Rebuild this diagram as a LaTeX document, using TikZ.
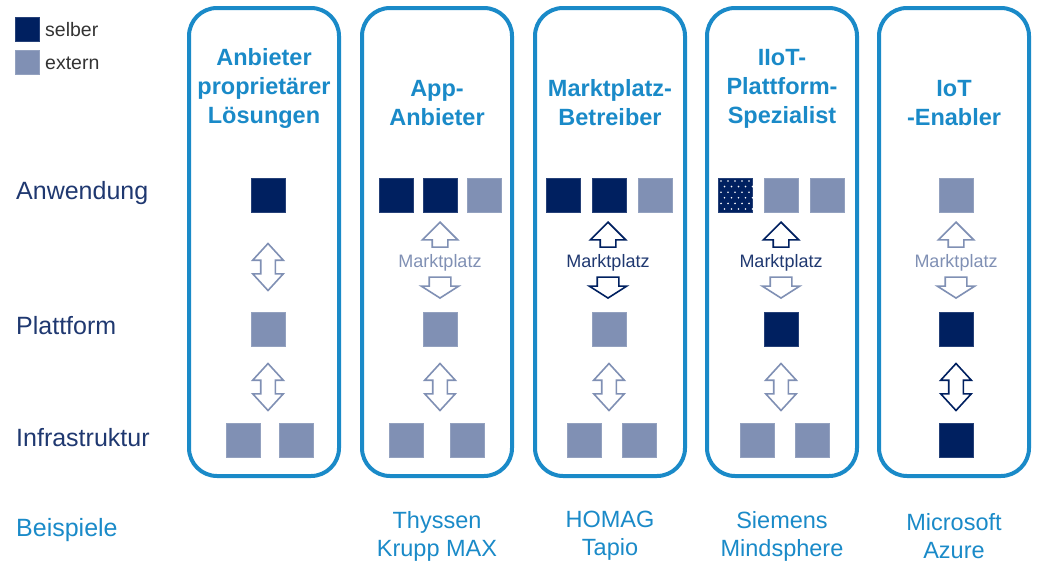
\documentclass[tikz,border=0pt]{standalone}
\usepackage{fontspec}
\setmainfont{Liberation Sans}
\usetikzlibrary{shapes.arrows}
\definecolor{navy}{HTML}{002060}
\definecolor{grau}{HTML}{8090B4}
\definecolor{rahmen}{HTML}{1A8AC8}
\definecolor{schrift}{HTML}{1F3870}
\begin{document}
\begin{tikzpicture}[x=1pt,y=-1pt,every node/.style={inner sep=0pt},
  selber/.style={fill=navy,draw=navy!85!white,line width=0.6pt,minimum size=34pt},
  extern/.style={fill=grau,draw=grau!85!white,line width=0.6pt,minimum size=34pt},
  spalte/.style={draw=rahmen,line width=4pt,rounded corners=28pt},
  kopf/.style={font=\fontsize{23.5}{29}\selectfont\bfseries,text=rahmen,align=center},
  ebene/.style={font=\fontsize{25}{30}\selectfont,text=schrift,anchor=west},
  beispiel/.style={font=\fontsize{23.5}{28}\selectfont,text=rahmen,align=center},
  dpfeil/.style={double arrow,rotate=90,fill=white,draw=#1,line width=1.6pt,
    inner xsep=0pt,inner ysep=6.5pt,minimum height=47pt,minimum width=29pt,
    double arrow head extend=8pt,double arrow tip angle=85},
  hoch/.style={single arrow,rotate=90,anchor=tip,fill=white,draw=#1,line width=1.6pt,
    inner xsep=0pt,inner ysep=7pt,minimum height=25pt,minimum width=34pt,
    single arrow head extend=10pt},
  runter/.style={single arrow,rotate=-90,anchor=tip,fill=white,draw=#1,line width=1.6pt,
    inner xsep=0pt,inner ysep=10pt,minimum height=21pt,minimum width=37pt,
    single arrow head extend=8pt,single arrow tip angle=115},
  markt/.style={font=\fontsize{18}{20}\selectfont,text=#1}]
\useasboundingbox (0,0) rectangle (1038,562);
% Legende
\node[selber,minimum size=24pt] (lsel) at (27.5,29.5) {};
\node[extern,minimum size=24pt] (lext) at (27.5,62) {};
\node[anchor=west,font=\fontsize{19.5}{22}\selectfont,text=black!80] (tsel) at (45,30) {selber};
\node[anchor=west,font=\fontsize{19.5}{22}\selectfont,text=black!80] (text) at (45,63) {extern};
% Ebenen
\node[ebene] (anw) at (16,193) {Anwendung};
\node[ebene] (pla) at (16,326) {Plattform};
\node[ebene] (inf) at (16,438) {Infrastruktur};
\node[ebene,text=rahmen] (bsp) at (16,530) {Beispiele};
% Spalten
\foreach \a/\b in {189/339,362/512,535/685,707/857,879/1029}
  \draw[spalte] (\a,8) rectangle (\b,476);
\node[kopf] (k1) at (264,88.5) {Anbieter\\proprietärer\\Lösungen};
\node[kopf] (k2) at (437,103) {App-\\Anbieter};
\node[kopf] (k3) at (610,103) {Marktplatz-\\Betreiber};
\node[kopf] (k4) at (782,88.5) {IIoT-\\Plattform-\\Spezialist};
\node[kopf] (k5) at (954,103) {IoT\\-Enabler};
% 1: Anbieter proprietaerer Loesungen
\node[selber] (a1) at (268,195) {};
\node[extern] (p1) at (268,329) {};
\node[extern] (i1a) at (243,440) {};
\node[extern] (i1b) at (296,440) {};
\node[dpfeil=grau] (d1a) at (268,267) {};
\node[dpfeil=grau] (d1b) at (268,387) {};
% 2: App-Anbieter
\node[selber] (a2a) at (396,195) {};
\node[selber] (a2b) at (440,195) {};
\node[extern] (a2c) at (484.5,195) {};
\node[hoch=grau] (h2) at (440,221) {};
\node[markt=grau] (m2) at (440,263) {Marktplatz};
\node[runter=grau] (r2) at (440,299) {};
\node[extern] (p2) at (440,329) {};
\node[dpfeil=grau] (d2) at (440,387) {};
\node[extern] (i2a) at (406,440) {};
\node[extern] (i2b) at (467,440) {};
% 3: Marktplatz-Betreiber
\node[selber] (a3a) at (563,195) {};
\node[selber] (a3b) at (609,195) {};
\node[extern] (a3c) at (655,195) {};
\node[hoch=navy] (h3) at (608,221) {};
\node[markt=schrift] (m3) at (608,263) {Marktplatz};
\node[runter=navy] (r3) at (608,299) {};
\node[extern] (p3) at (609,329) {};
\node[dpfeil=grau] (d3) at (609,387) {};
\node[extern] (i3a) at (584,440) {};
\node[extern] (i3b) at (639,440) {};
% 4: IIoT-Plattform-Spezialist
\node[selber] (a4a) at (735,195) {};
\foreach \r in {0,...,5}
  \foreach \c in {0,...,4} {
    \pgfmathsetmacro{\x}{721+\c*7+mod(\r,2)*3.5}
    \pgfmathsetmacro{\y}{181+\r*5.6}
    \fill[white] (\x,\y) circle (0.9);
  }
\node[extern] (a4b) at (781,195) {};
\node[extern] (a4c) at (827,195) {};
\node[hoch=navy] (h4) at (781,221) {};
\node[markt=schrift] (m4) at (781,263) {Marktplatz};
\node[runter=grau] (r4) at (781,299) {};
\node[selber] (p4) at (781,329) {};
\node[dpfeil=grau] (d4) at (781,387) {};
\node[extern] (i4a) at (757,440) {};
\node[extern] (i4b) at (812,440) {};
% 5: IoT-Enabler
\node[extern] (a5) at (956,195) {};
\node[hoch=grau] (h5) at (956,221) {};
\node[markt=grau] (m5) at (956,263) {Marktplatz};
\node[runter=grau] (r5) at (956,299) {};
\node[selber] (p5) at (956,329) {};
\node[dpfeil=navy] (d5) at (956,387) {};
\node[selber] (i5) at (956,440) {};
% Beispiele
\node[beispiel] (b2) at (437,536) {Thyssen\\Krupp MAX};
\node[beispiel] (b3) at (610,536) {HOMAG\\Tapio};
\node[beispiel] (b4) at (782,536) {Siemens\\Mindsphere};
\node[beispiel] (b5) at (954,536) {Microsoft\\Azure};
\end{tikzpicture}
\end{document}
